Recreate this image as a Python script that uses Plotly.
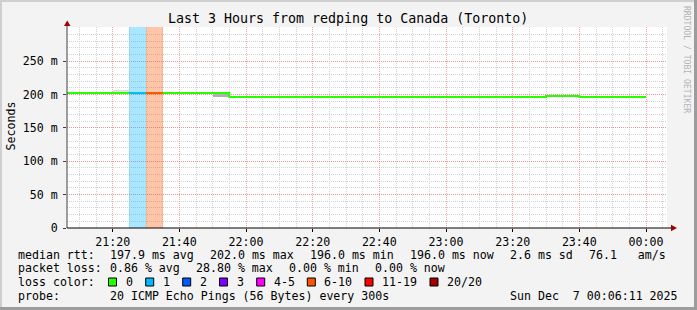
import plotly.graph_objects as go

# ---------------- data ----------------
# 5-minute interval boundaries (start of each step, plus final end)
times = [
    "2025-12-06 21:05", "2025-12-06 21:10", "2025-12-06 21:15", "2025-12-06 21:20",
    "2025-12-06 21:25", "2025-12-06 21:30", "2025-12-06 21:35", "2025-12-06 21:40",
    "2025-12-06 21:45", "2025-12-06 21:50", "2025-12-06 21:55", "2025-12-06 22:00",
    "2025-12-06 22:05", "2025-12-06 22:10", "2025-12-06 22:15", "2025-12-06 22:20",
    "2025-12-06 22:25", "2025-12-06 22:30", "2025-12-06 22:35", "2025-12-06 22:40",
    "2025-12-06 22:45", "2025-12-06 22:50", "2025-12-06 22:55", "2025-12-06 23:00",
    "2025-12-06 23:05", "2025-12-06 23:10", "2025-12-06 23:15", "2025-12-06 23:20",
    "2025-12-06 23:25", "2025-12-06 23:30", "2025-12-06 23:35", "2025-12-06 23:40",
    "2025-12-06 23:45", "2025-12-06 23:50", "2025-12-06 23:55", "2025-12-07 00:00",
]
# median rtt (ms) per interval
median_ms = [
    202.0, 202.0, 202.0, 202.0, 202.0, 202.0, 202.0, 202.0, 202.0, 202.0,
    196.0, 196.0, 196.0, 196.0, 196.0, 196.0, 196.0, 196.0, 196.0, 196.0,
    196.0, 196.0, 196.0, 196.0, 196.0, 196.0, 196.0, 196.0, 196.0,
    197.5, 197.5,
    196.0, 196.0, 196.0, 196.0,
]
# lost pings (of 20) per interval
loss = [
    0, 0, 0, 0, 1, 8, 0, 0, 0, 0,
    0, 0, 0, 0, 0, 0, 0, 0, 0, 0,
    0, 0, 0, 0, 0, 0, 0, 0, 0, 0,
    0, 0, 0, 0, 0,
]
# smoke (ping spread) bands
smoke_start = ["2025-12-06 21:20", "2025-12-06 21:50"]
smoke_lo = [202.0, 196.0]
smoke_hi = [206.0, 200.0]
smoke_color = ["#dedede", "#b0b0b0"]

# loss classes
loss_max = [0, 1, 2, 3, 5, 10, 19, 20]
loss_labels = ["0", "1", "2", "3", "4-5", "6-10", "11-19", "20/20"]
loss_colors = ["#26ff00", "#00b8ff", "#0059ff", "#7e00ff", "#ff00ff", "#ff5500", "#ff0000", "#a10000"]

y_ticks = [0, 50, 100, 150, 200, 250]
y_ticktext = ["0", "50 m", "100 m", "150 m", "200 m", "250 m"]

title = "Last 3 Hours from redping to Canada (Toronto)"
rtt_items = ["197.9 ms avg", "202.0 ms max", "196.0 ms min", "196.0 ms now", "2.6 ms sd", "76.1   am/s"]
loss_items = ["0.86 % avg", "28.80 % max", "0.00 % min", "0.00 % now"]
probe_text = "20 ICMP Echo Pings (56 Bytes) every 300s"
date_text = "Sun Dec  7 00:06:11 2025"

# ---------------- geometry ----------------
W, H = 697, 310
L, R, T, B = 67, 667, 27, 228
YMAX = 301


def px(x):
    return (x - L) / (R - L)


def py(y):
    return (B - y) / (B - T)


def loss_class(n):
    for i, m in enumerate(loss_max):
        if n <= m:
            return i
    return len(loss_max) - 1


MONO = "DejaVu Sans Mono"
FS = 11.6

fig = go.Figure()

# loss background bars
for ci in range(1, len(loss_max)):
    xs = [times[i] for i in range(len(loss)) if loss[i] > 0 and loss_class(loss[i]) == ci]
    if not xs:
        continue
    c = loss_colors[ci]
    r, g, b = int(c[1:3], 16), int(c[3:5], 16), int(c[5:7], 16)
    fig.add_trace(go.Bar(
        x=xs, y=[YMAX] * len(xs), base=0, width=300000, offset=0,
        marker=dict(color=f"rgba({r},{g},{b},0.34)", line=dict(width=0)),
        hoverinfo="skip", showlegend=False))

# smoke bands
fig.add_trace(go.Bar(
    x=smoke_start, y=[h - l for h, l in zip(smoke_hi, smoke_lo)], base=smoke_lo,
    width=300000, offset=0,
    marker=dict(color=smoke_color, line=dict(width=0)),
    hoverinfo="skip", showlegend=False))

# median line (green, step)
fig.add_trace(go.Scatter(
    x=times, y=median_ms + [median_ms[-1]], mode="lines",
    line=dict(color=loss_colors[0], width=2, shape="hv"),
    hoverinfo="skip", showlegend=False))

# coloured segments for intervals with loss
for ci in range(1, len(loss_max)):
    sx, sy = [], []
    for i in range(len(loss)):
        if loss[i] > 0 and loss_class(loss[i]) == ci:
            sx += [times[i], times[i + 1], None]
            sy += [median_ms[i], median_ms[i], None]
    if sx:
        fig.add_trace(go.Scatter(
            x=sx, y=sy, mode="lines",
            line=dict(color=loss_colors[ci], width=2),
            hoverinfo="skip", showlegend=False))

shapes = []
ann = []

# axis extensions and arrows
AX = "#a00000"
shapes.append(dict(type="line", xref="paper", yref="paper", x0=px(L), x1=px(L), y0=py(B), y1=py(22),
                   line=dict(color="#404040", width=1)))
shapes.append(dict(type="line", xref="paper", yref="paper", x0=px(L), x1=px(672), y0=py(B), y1=py(B),
                   line=dict(color="#000000", width=1)))
shapes.append(dict(type="path", xref="paper", yref="paper",
                   path=f"M {px(64)} {py(26)} L {px(70.5)} {py(26)} L {px(67.2)} {py(20.5)} Z",
                   fillcolor=AX, line=dict(width=0)))
shapes.append(dict(type="path", xref="paper", yref="paper",
                   path=f"M {px(671)} {py(224.8)} L {px(671)} {py(231.2)} L {px(677)} {py(228)} Z",
                   fillcolor=AX, line=dict(width=0)))

# frame border
shapes.append(dict(type="rect", xref="paper", yref="paper", x0=px(0), x1=px(2), y0=py(0), y1=py(H),
                   fillcolor="#cfcfcf", line=dict(width=0)))
shapes.append(dict(type="rect", xref="paper", yref="paper", x0=px(0), x1=px(W), y0=py(0), y1=py(2),
                   fillcolor="#cfcfcf", line=dict(width=0)))
shapes.append(dict(type="rect", xref="paper", yref="paper", x0=px(W - 3), x1=px(W), y0=py(0), y1=py(H),
                   fillcolor="#9c9c9c", line=dict(width=0)))
shapes.append(dict(type="rect", xref="paper", yref="paper", x0=px(0), x1=px(W), y0=py(H - 3), y1=py(H),
                   fillcolor="#9c9c9c", line=dict(width=0)))


def text(x, y, s, size=FS, xanchor="left", color="#000000", angle=0):
    ann.append(dict(x=px(x), y=py(y), xref="paper", yref="paper", text=s, showarrow=False,
                    xanchor=xanchor, yanchor="middle", textangle=angle,
                    font=dict(family=MONO, size=size, color=color)))


# title
text(348, 19, title, size=13.3, xanchor="center")
# y axis title
text(10.5, 126, "Seconds", xanchor="center", angle=-90)
# watermark
text(687, 59, "RRDTOOL / TOBI OETIKER", size=8.1, xanchor="center", color="#b4b4b4", angle=90)

# legend lines
Y1, Y2, Y3, Y4 = 254.5, 268.3, 282.0, 295.6
text(16, Y1, "median rtt:")
for s, x in zip(rtt_items, [107.5, 207.5, 307.5, 407.5, 507.5, 586.5]):
    text(x, Y1, s)
text(16, Y2, "packet loss:")
for s, x in zip(loss_items, [107.5, 193.5, 286.5, 372.5]):
    text(x, Y2, s)
text(16, Y3, "loss color:")
box_x = [108.5, 145.7, 182.7, 219.5, 256.7, 307.3, 365.0, 430.0]
for bx, lab, col in zip(box_x, loss_labels, loss_colors):
    shapes.append(dict(type="rect", xref="paper", yref="paper",
                       x0=px(bx), x1=px(bx + 8), y0=py(Y3 + 4), y1=py(Y3 - 4),
                       fillcolor=col, line=dict(color="#000000", width=1)))
    text(bx + 15, Y3, lab)
text(16, Y4, "probe:")
text(107.5, Y4, probe_text)
text(680, Y4, date_text, xanchor="right")

fig.update_layout(
    width=W, height=H,
    margin=dict(l=L, r=W - R, t=T, b=H - B, pad=0),
    paper_bgcolor="#f3f3f3", plot_bgcolor="#ffffff",
    barmode="overlay", bargap=0,
    showlegend=False,
    shapes=shapes, annotations=ann,
    font=dict(family=MONO, size=FS, color="#000000"),
    xaxis=dict(
        type="date",
        range=["2025-12-06 21:06:18", "2025-12-07 00:06:18"],
        tick0="2025-12-06 21:20", dtick=1200000, tickformat="%H:%M",
        showgrid=True, gridcolor="rgba(240,120,120,0.65)", griddash="1px,1px", gridwidth=1,
        minor=dict(dtick=300000, tick0="2025-12-06 21:20", showgrid=True,
                   gridcolor="#d2d2d2", griddash="1px,1px", gridwidth=1),
        showline=False, zeroline=False,
        ticks="outside", ticklen=3, tickcolor="#000000",
        tickfont=dict(family=MONO, size=FS, color="#000000"),
        fixedrange=True,
    ),
    yaxis=dict(
        range=[0, YMAX],
        tickvals=y_ticks, ticktext=y_ticktext,
        showgrid=True, gridcolor="rgba(240,120,120,0.65)", griddash="1px,1px", gridwidth=1,
        minor=dict(dtick=10, tick0=0, showgrid=True, gridcolor="#d2d2d2", griddash="1px,1px", gridwidth=1),
        showline=False, zeroline=False,
        ticks="outside", ticklen=3, tickcolor="#404040",
        ticklabelstandoff=3,
        tickfont=dict(family=MONO, size=FS, color="#000000"),
        fixedrange=True,
    ),
)

fig.write_html("out.html")
